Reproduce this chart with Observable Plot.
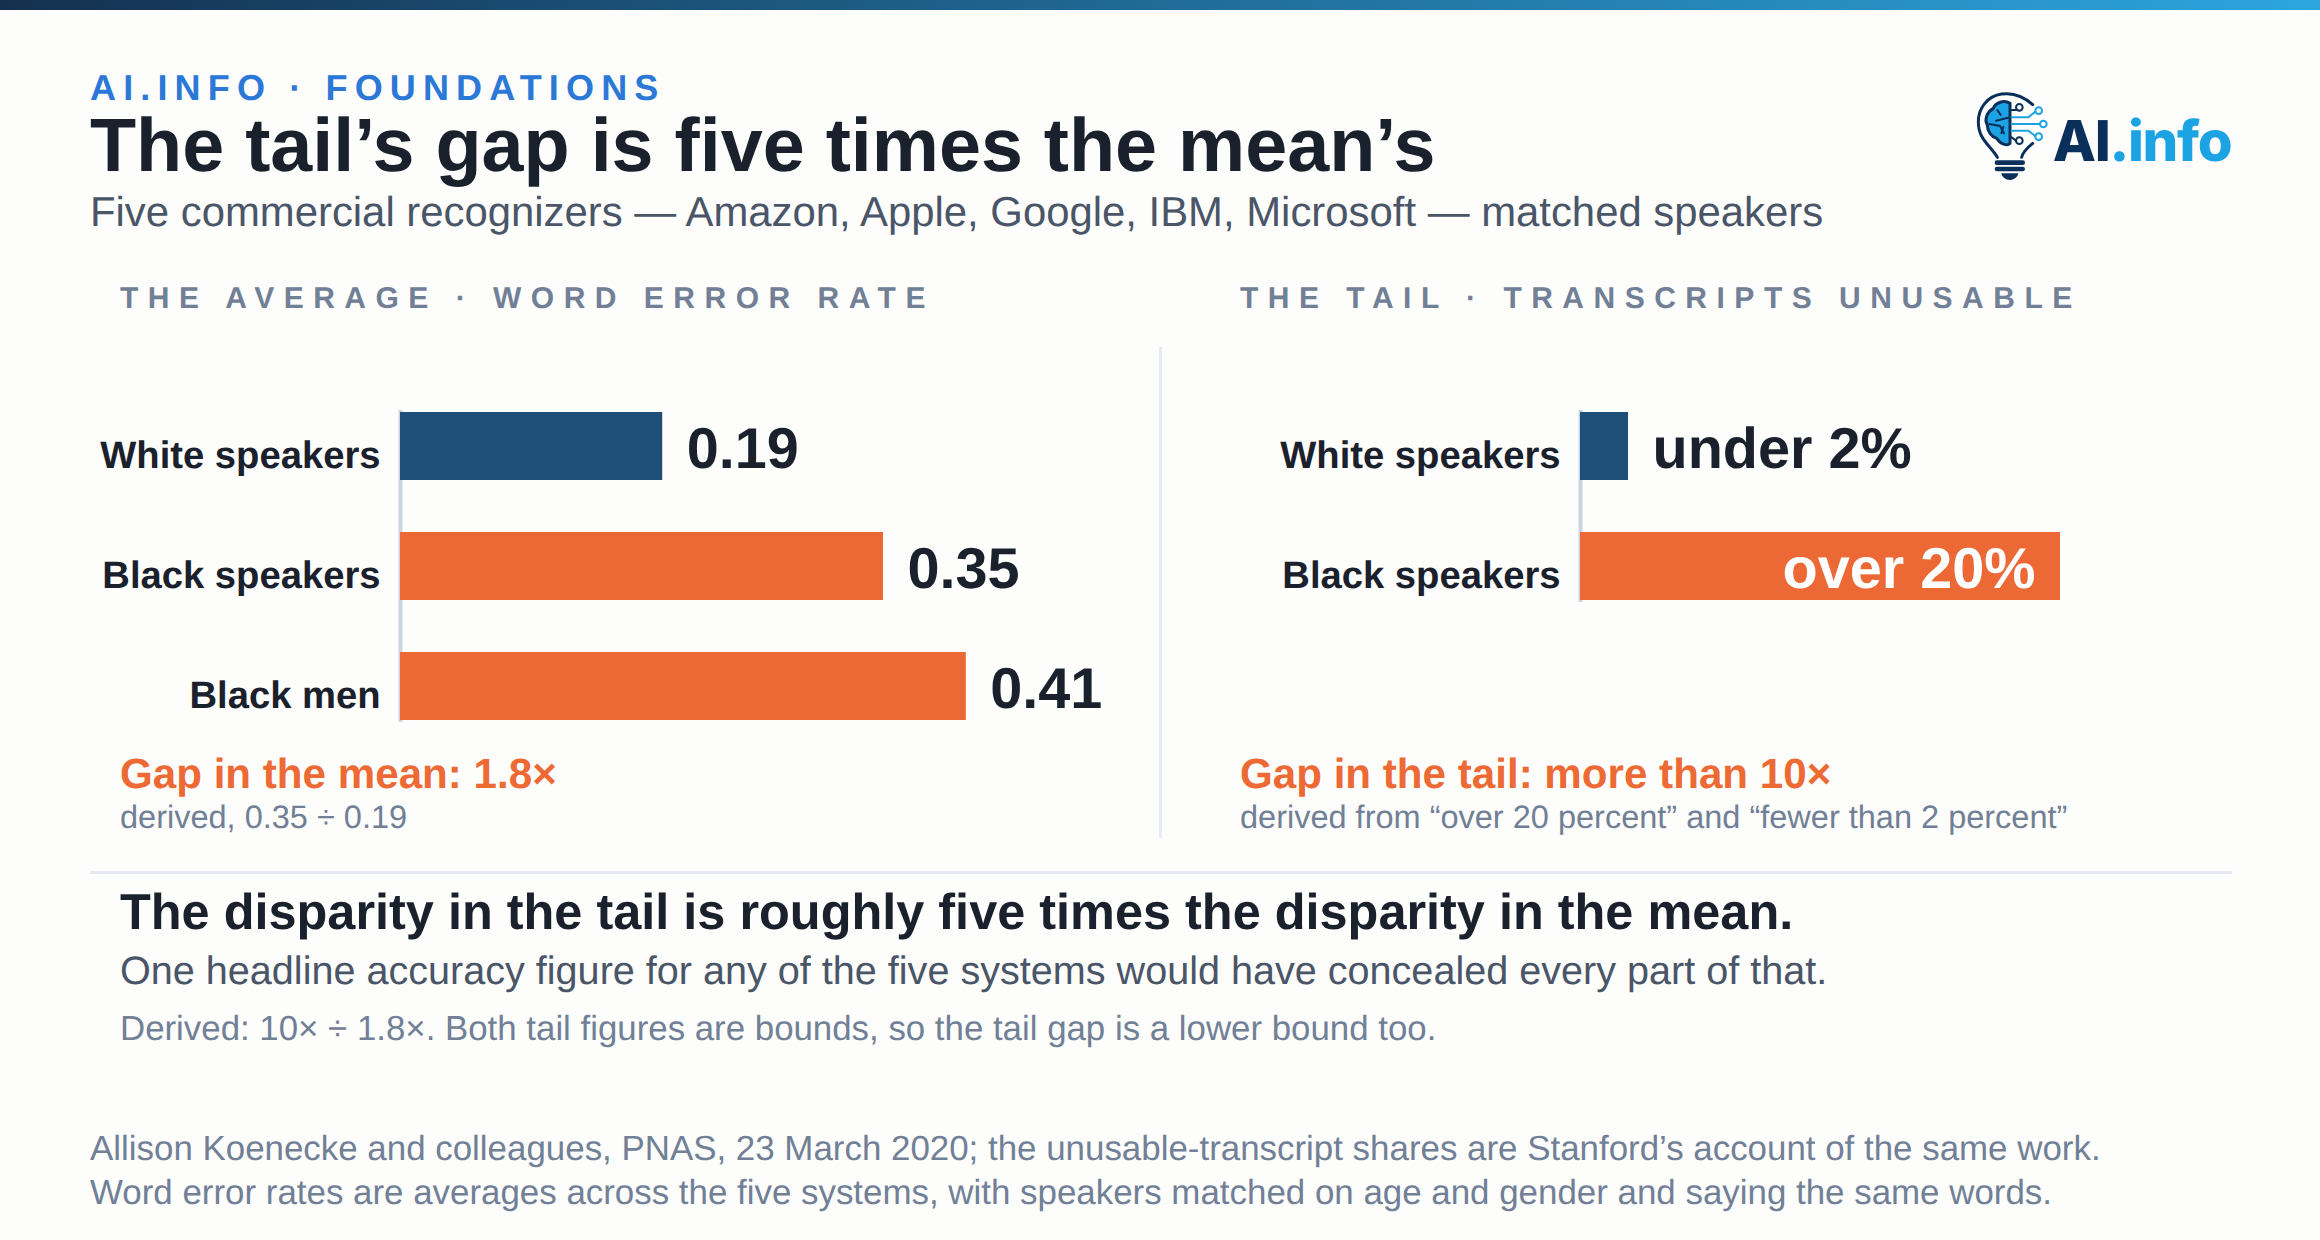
<!DOCTYPE html>
<html>
<head>
<meta charset="utf-8">
<script src="https://cdn.jsdelivr.net/npm/d3@7"></script>
<script src="https://cdn.jsdelivr.net/npm/@observablehq/plot@0.6"></script>
<style>
html,body{margin:0;padding:0;background:#fdfdfb;}
#page{position:relative;width:2320px;height:1240px;overflow:hidden;background:#fdfdfb;font-family:"Liberation Sans",Arial,sans-serif;text-rendering:geometricPrecision;}
#bar{position:absolute;left:0;top:0;width:2320px;height:10px;background:linear-gradient(90deg,#14304f,#2ca5de);}
.t{position:absolute;white-space:nowrap;line-height:1;margin:0;font-weight:400;}
#eyebrow{left:90px;top:70px;font-size:36px;font-weight:700;letter-spacing:7.15px;color:#2b78d6;}
#title{left:90px;top:107.5px;font-size:75.5px;font-weight:700;color:#1a202c;}
#subtitle{left:90px;top:191px;font-size:41.86px;color:#4a5568;}
.ph{top:283.5px;font-size:30px;font-weight:700;letter-spacing:9.5px;color:#718096;}
#ph1{left:120px}#ph2{left:1240px}
.gap{top:753px;font-size:42.15px;font-weight:700;color:#ed6a35;}
.der{top:801px;font-size:32.5px;color:#718096;}
#g1,#d1{left:120px}#g2,#d2{left:1240px}
#vr{position:absolute;left:1159px;top:347px;width:3px;height:491px;background:#e6ecf5;}
#hr{position:absolute;left:90px;top:871px;width:2142px;height:3px;background:#e6e9f2;}
#s1{left:120px;top:886.5px;font-size:50.45px;font-weight:700;color:#1a202c;}
#s2{left:120px;top:952px;font-size:39.6px;color:#4a5568;}
#s3{left:120px;top:1012px;font-size:34.85px;color:#718096;}
.foot{left:90px;font-size:34.9px;color:#718096;}
#f1{top:1132px}#f2{top:1176px}
#panelA,#panelB{position:absolute;top:340px;}
#panelA{left:0}#panelB{left:1180px}
#logo{position:absolute;left:1900px;top:0;width:420px;height:220px;}
svg{display:block}
</style>
</head>
<body>
<div id="page">
  <div id="bar"></div>
  <div class="t" id="eyebrow">AI.INFO · FOUNDATIONS</div>
  <h1 class="t" id="title">The tail’s gap is five times the mean’s</h1>
  <div class="t" id="subtitle">Five commercial recognizers — Amazon, Apple, Google, IBM, Microsoft — matched speakers</div>
  <svg id="logo" viewBox="0 0 1260 660">
    <g fill="none" stroke="#0b2f5b" stroke-width="9" stroke-linecap="round">
      <path d="M398,314 C370,288 335,278 305,282 C262,288 235,325 235,365 C235,405 255,425 272,445 C282,457 288,465 292,472"/>
      <path d="M398,430 C382,443 368,455 365,472"/>
    </g>
    <g fill="#0b2f5b">
      <rect x="284" y="481" width="91" height="14" rx="7"/>
      <rect x="284" y="500" width="91" height="14" rx="7"/>
      <path d="M304,520 H355 C353,532 342,540 330,540 C317,540 306,532 304,520 Z"/>
    </g>
    <path d="M330,310 C312,298 286,308 280,325 C262,335 252,358 262,375 C262,395 275,410 290,415 C300,432 322,440 330,430 Z" fill="#1ca3e3" stroke="#0b2f5b" stroke-width="9" stroke-linejoin="round"/>
    <g fill="none" stroke="#0b2f5b" stroke-width="6" stroke-linecap="round">
      <path d="M330,310 V430"/>
      <path d="M330,352 L288,362 M268,372 L300,378 L312,400 M292,330 L302,345 M310,380 L304,400"/>
      <path d="M335,330 H348 M335,412 L348,422"/>
      <circle cx="358" cy="322" r="10"/>
      <circle cx="358" cy="422" r="10"/>
    </g>
    <g fill="none" stroke="#1ca3e3" stroke-width="6" stroke-linecap="round">
      <path d="M335,352 H385 L406,335 M335,372 H420 M335,392 H385 L406,408"/>
      <circle cx="416" cy="332" r="10"/>
      <circle cx="430" cy="372" r="10"/>
      <circle cx="416" cy="410" r="10"/>
    </g>
    <text x="458" y="482" font-family="Inter" font-weight="800" font-size="169" letter-spacing="-4"><tspan fill="#0b2f5b">AI</tspan><tspan fill="#1ca3e3">.info</tspan></text>
  </svg>
  <div class="t ph" id="ph1">THE AVERAGE · WORD ERROR RATE</div>
  <div class="t ph" id="ph2">THE TAIL · TRANSCRIPTS UNUSABLE</div>
  <div id="panelA"></div>
  <div id="panelB"></div>
  <div id="vr"></div>
  <div class="t gap" id="g1">Gap in the mean: 1.8×</div>
  <div class="t der" id="d1">derived, 0.35 ÷ 0.19</div>
  <div class="t gap" id="g2">Gap in the tail: more than 10×</div>
  <div class="t der" id="d2">derived from “over 20 percent” and “fewer than 2 percent”</div>
  <div id="hr"></div>
  <div class="t" id="s1">The disparity in the tail is roughly five times the disparity in the mean.</div>
  <div class="t" id="s2">One headline accuracy figure for any of the five systems would have concealed every part of that.</div>
  <div class="t" id="s3">Derived: 10× ÷ 1.8×. Both tail figures are bounds, so the tail gap is a lower bound too.</div>
  <div class="t foot" id="f1">Allison Koenecke and colleagues, PNAS, 23 March 2020; the unusable-transcript shares are Stanford’s account of the same work.</div>
  <div class="t foot" id="f2">Word error rates are averages across the five systems, with speakers matched on age and gender and saying the same words.</div>
</div>
<script>
const meanGroups = ["White speakers", "Black speakers", "Black men"];
const meanValues = [0.19, 0.35, 0.41];
const meanLabels = ["0.19", "0.35", "0.41"];
const tailGroups = ["White speakers", "Black speakers"];
const tailValues = [2, 20];
const tailLabels = ["under 2%", "over 20%"];

const NAVY = "#1f4e79", ORANGE = "#ec6835", INK = "#1a202c", AXIS = "#cbd5e0";
const fillFor = g => g === "White speakers" ? NAVY : ORANGE;
const BAND = 0.4333;

function panel({groups, values, labels, domain, xRange, width, yRange, height, inside}) {
  const rows = groups.map((g, i) => ({g, v: values[i], label: labels[i]}));
  const isInside = d => inside && inside(d);
  return Plot.plot({
    width, height,
    marginLeft: xRange[0], marginRight: width - xRange[1],
    marginTop: yRange[0] - 2, marginBottom: height - yRange[1] - 2,
    style: {fontFamily: '"Liberation Sans", Arial, sans-serif', background: "transparent", overflow: "visible", textRendering: "geometricPrecision"},
    x: {domain, range: xRange, axis: null},
    y: {domain: groups, range: yRange, paddingInner: BAND, paddingOuter: 0, round: false, label: null},
    marks: [
      Plot.ruleX([0], {stroke: AXIS, strokeWidth: 4}),
      Plot.axisY({anchor: "left", tickSize: 0, tickPadding: 20, fontSize: 38.2, fontWeight: 700, fill: INK, label: null, dy: 9}),
      Plot.barX(rows, {x: "v", y: "g", fill: d => fillFor(d.g)}),
      Plot.text(rows.filter(d => !isInside(d)), {x: "v", y: "g", text: "label", dx: 24, dy: 3, textAnchor: "start", fontSize: 57.6, fontWeight: 700, fill: INK}),
      Plot.text(rows.filter(isInside), {x: "v", y: "g", text: "label", dx: -25, dy: 3, textAnchor: "end", fontSize: 57.6, fontWeight: 700, fill: "#ffffff"})
    ]
  });
}

document.getElementById("panelA").append(panel({
  groups: meanGroups, values: meanValues, labels: meanLabels,
  domain: [0, 0.5], xRange: [400, 1090], width: 1160,
  yRange: [72, 380], height: 500
}));
document.getElementById("panelB").append(panel({
  groups: tailGroups, values: tailValues, labels: tailLabels,
  domain: [0, 20], xRange: [400, 880], width: 1120,
  yRange: [72, 260], height: 500, inside: d => d.v === 20
}));
</script>
</body>
</html>
